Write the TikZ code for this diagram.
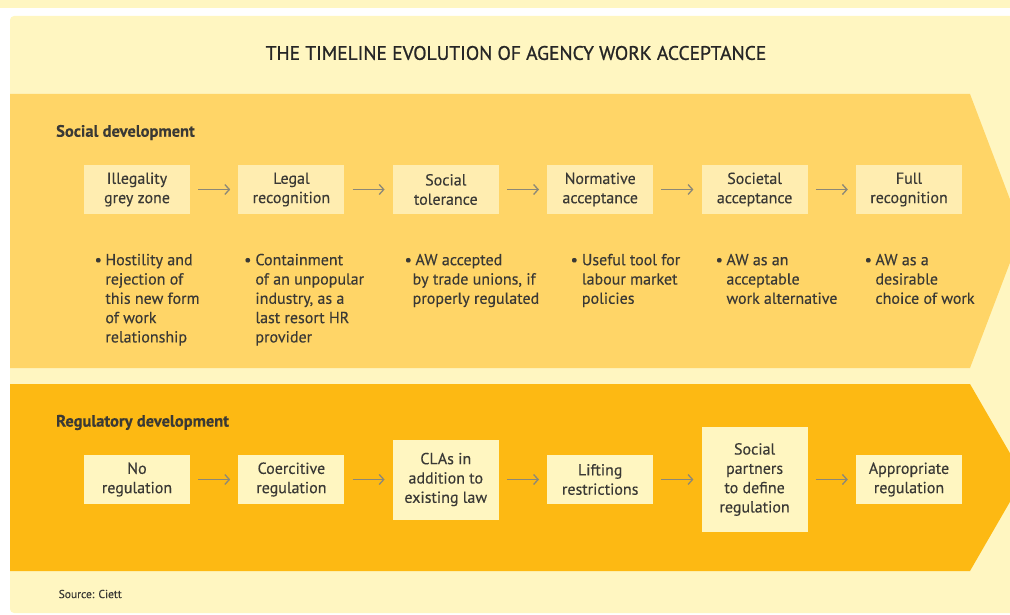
\documentclass[tikz,border=0pt]{standalone}
\usepackage{fontspec}
\setmainfont[FakeBold=0.25]{PT Sans}
\newfontfamily\titlefont[FakeBold=0.9]{PT Sans}
\usetikzlibrary{arrows.meta}

\definecolor{paleyellow}{HTML}{FFF6C1}
\definecolor{socialband}{HTML}{FFD567}
\definecolor{regband}{HTML}{FDB913}
\definecolor{socialbox}{HTML}{FFEDB0}
\definecolor{regbox}{HTML}{FFF6C1}
\definecolor{arrowgrey}{HTML}{8C8877}
\definecolor{textgrey}{HTML}{3A3935}

\begin{document}
\begin{tikzpicture}[x=1pt, y=-1pt, every node/.style={font=\fontsize{16}{19.3}\selectfont, text=textgrey, inner sep=0pt}, >={Straight Barb[length=4.5pt, width=10pt, line width=1.3pt]}, stage/.style={minimum width=106pt, minimum height=49pt, align=center}, flow/.style={->, draw=arrowgrey, line width=1.4pt, shorten <=8pt, shorten >=8pt}, head/.style={anchor=west, font=\fontsize{16.5}{19}\selectfont\bfseries}, note/.style={anchor=north west}]
	\useasboundingbox (0,0) rectangle (1010,615);
	% background and bands
	\fill[paleyellow] (0,0) rectangle (1010,8);
	\fill[paleyellow, rounded corners=4pt] (10,16) rectangle (1020,613);
	\fill[socialband] (10,94) -- (970,94) -- (1022,231) -- (970,368) -- (10,368) -- cycle;
	\fill[regband] (10,384) -- (970,384) -- (1024,477.5) -- (970,571) -- (10,571) -- cycle;
	\node[font=\titlefont\fontsize{19.5}{22}\selectfont, text=black!85] (title) at (516,53) {THE TIMELINE EVOLUTION OF AGENCY WORK ACCEPTANCE};
	% social development
	\node[head] (social) at (56,132.5) {Social development};
	\node[stage, fill=socialbox] (illegal) at (137,189.5) {Illegality\\grey zone};
	\node[stage, fill=socialbox] (legal) at (291.4,189.5) {Legal\\recognition};
	\node[stage, fill=socialbox] (toler) at (445.8,189.5) {Social\\tolerance};
	\node[stage, fill=socialbox] (norm) at (600.2,189.5) {Normative\\acceptance};
	\node[stage, fill=socialbox] (societal) at (754.6,189.5) {Societal\\acceptance};
	\node[stage, fill=socialbox] (full) at (909,189.5) {Full\\recognition};
	\draw[flow] (illegal) -- (legal);
	\draw[flow] (legal) -- (toler);
	\draw[flow] (toler) -- (norm);
	\draw[flow] (norm) -- (societal);
	\draw[flow] (societal) -- (full);
	\node[note] (hostility) at (94.5,251.5) {\begin{tabular}{@{}l@{\hspace{3.5pt}}l@{}}\textbullet & Hostility and\\ & rejection of\\ & this new form\\ & of work\\ & relationship\end{tabular}};
	\node[note] (contain) at (244,251.5) {\begin{tabular}{@{}l@{\hspace{4pt}}l@{}}\textbullet & Containment\\ & of an unpopular\\ & industry, as a\\ & last resort HR\\ & provider\end{tabular}};
	\node[note] (unions) at (404.5,251.5) {\begin{tabular}{@{}l@{\hspace{3.5pt}}l@{}}\textbullet & AW accepted\\ \multicolumn{2}{@{\hspace{8pt}}l@{}}{by trade unions, if}\\ \multicolumn{2}{@{\hspace{8pt}}l@{}}{properly regulated}\end{tabular}};
	\node[note] (tool) at (570.5,251.5) {\begin{tabular}{@{}l@{\hspace{4pt}}l@{}}\textbullet & Useful tool for\\ & labour market\\ & policies\end{tabular}};
	\node[note] (altern) at (715.5,251.5) {\begin{tabular}{@{}l@{\hspace{3.5pt}}l@{}}\textbullet & AW as an\\ & acceptable\\ & work alternative\end{tabular}};
	\node[note] (choice) at (864.5,251.5) {\begin{tabular}{@{}l@{\hspace{3.5pt}}l@{}}\textbullet & AW as a\\ & desirable\\ & choice of work\end{tabular}};
	% regulatory development
	\node[head] (regul) at (56,422.5) {Regulatory development};
	\node[stage, fill=regbox] (noreg) at (137,479.5) {No\\regulation};
	\node[stage, fill=regbox] (coerc) at (291.4,479.5) {Coercitive\\regulation};
	\node[stage, fill=regbox, minimum height=80pt] (clas) at (445.8,479.5) {CLAs in\\addition to\\existing law};
	\node[stage, fill=regbox] (lift) at (600.2,479.5) {Lifting\\restrictions};
	\node[stage, fill=regbox, minimum height=105pt] (partners) at (754.6,479.5) {Social\\partners\\to define\\regulation};
	\node[stage, fill=regbox] (approp) at (909,479.5) {Appropriate\\regulation};
	\draw[flow] (noreg) -- (coerc);
	\draw[flow] (coerc) -- (clas);
	\draw[flow] (clas) -- (lift);
	\draw[flow] (lift) -- (partners);
	\draw[flow] (partners) -- (approp);
	\node[anchor=west, font=\fontsize{11.5}{13}\selectfont] (source) at (58.5,594) {Source: Ciett};
\end{tikzpicture}
\end{document}
